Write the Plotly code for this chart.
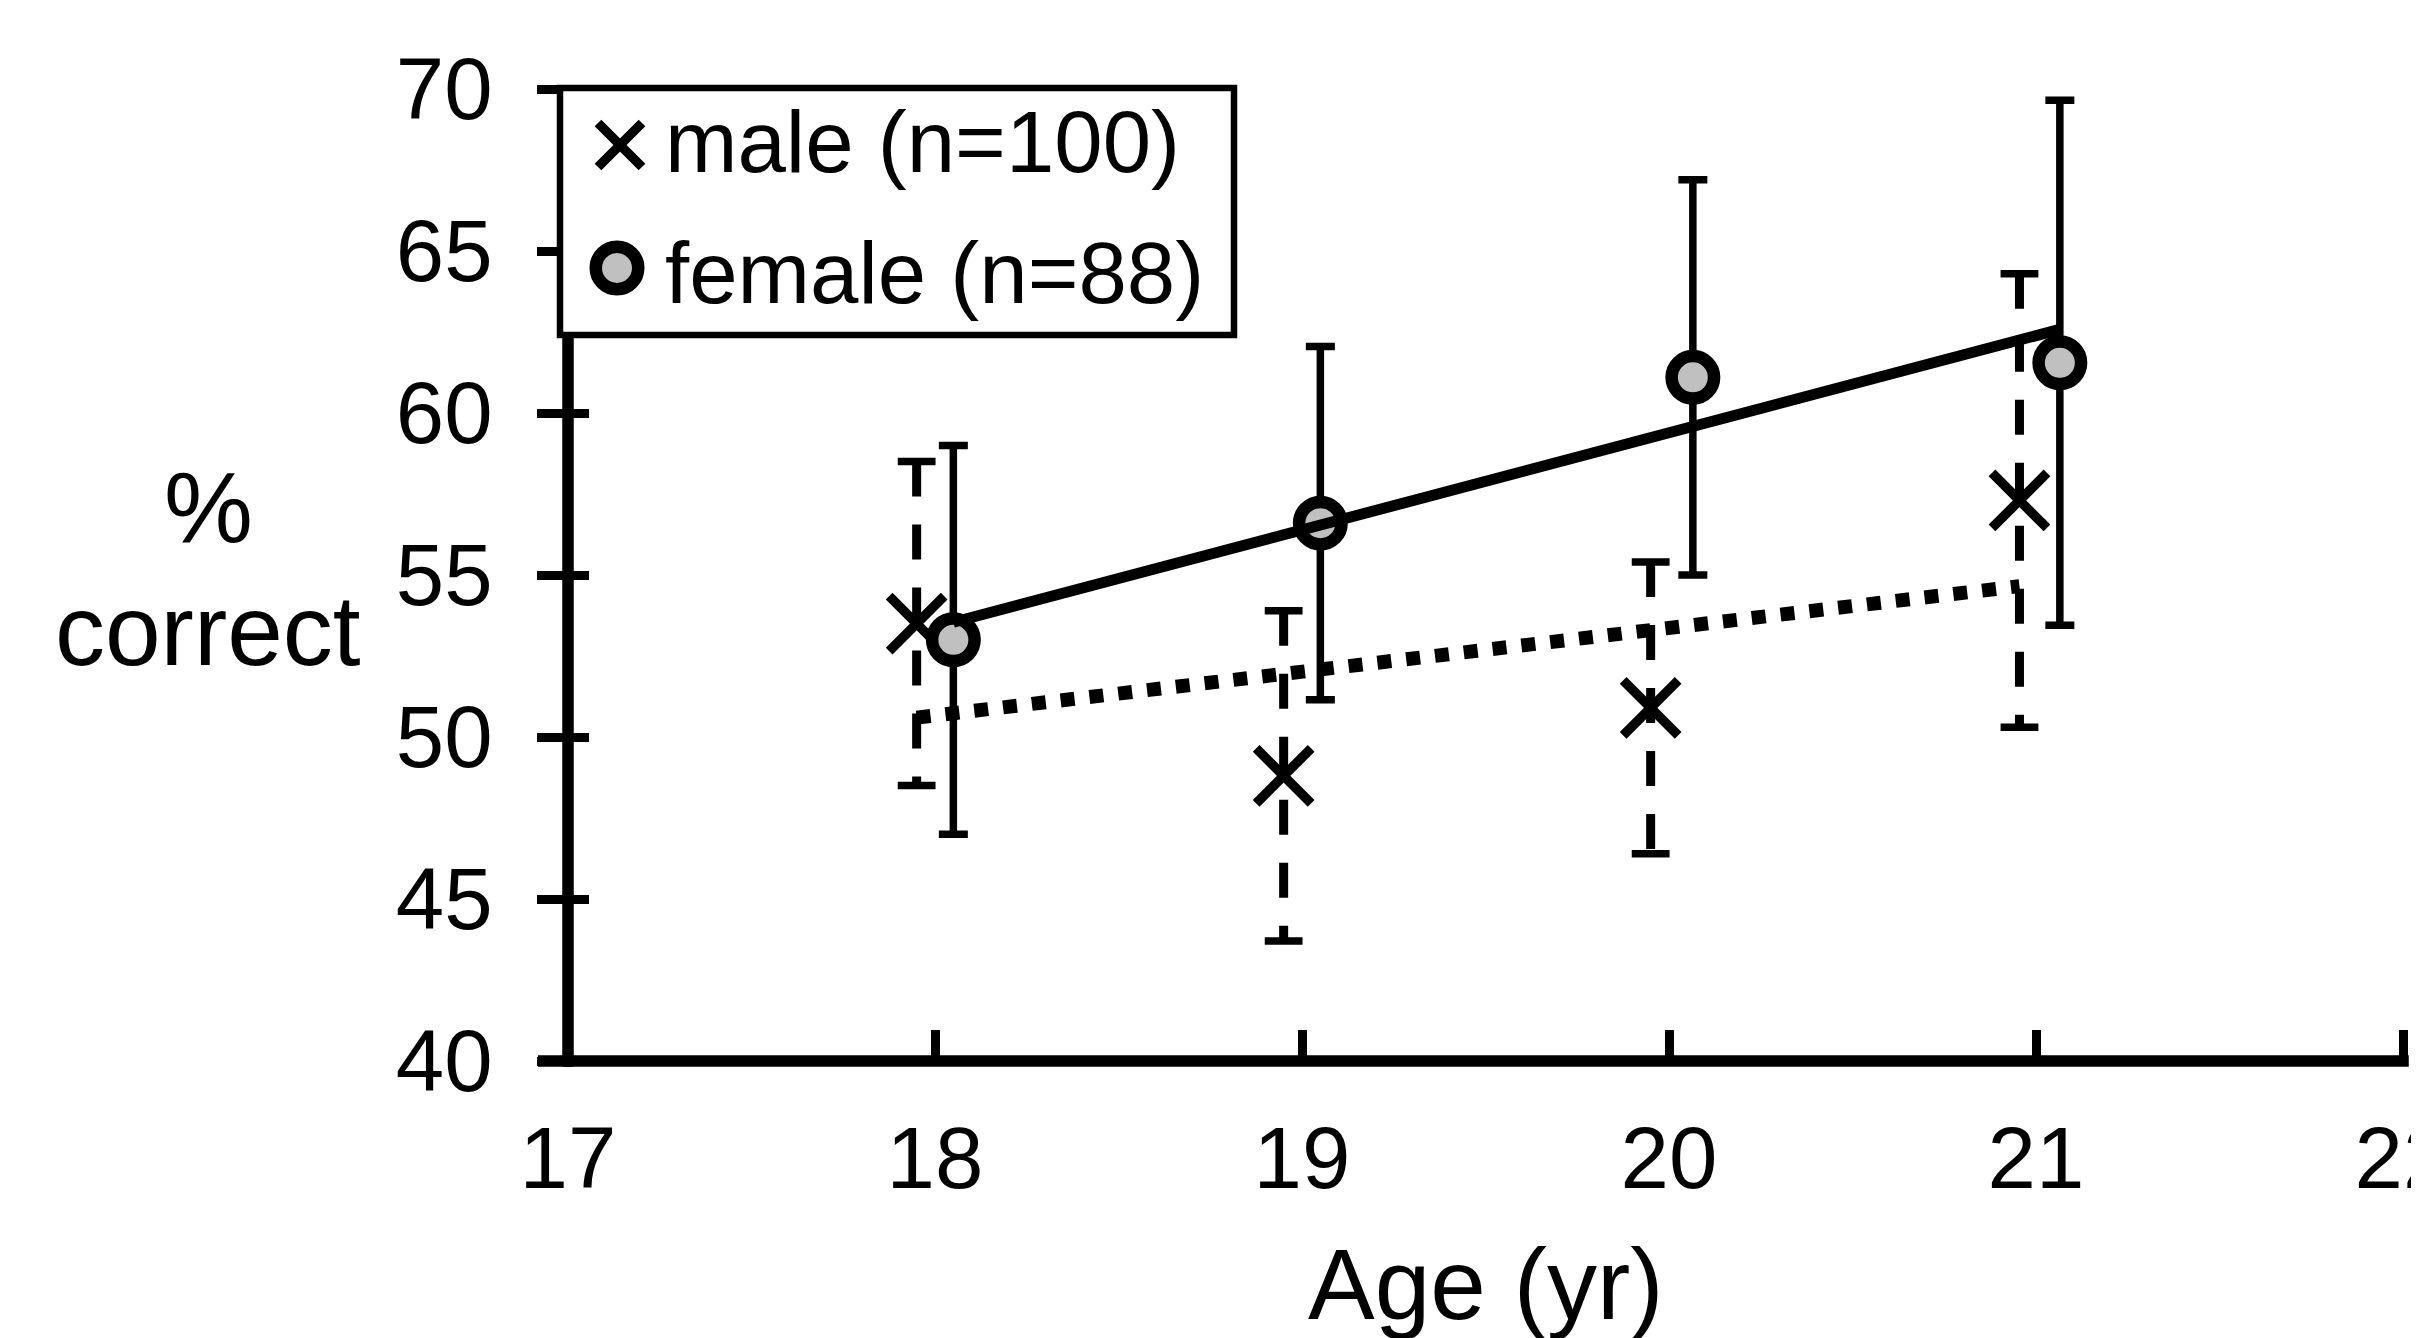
import numpy as np
import plotly.graph_objects as go

# ---------------- data ----------------
male_x = [17.95, 18.95, 19.95, 20.955]
male_pct = [53.5, 48.8, 50.9, 57.3]
male_err = [5.0, 5.1, 4.5, 7.0]

female_x = [18.05, 19.05, 20.065, 21.065]
female_pct = [53.0, 56.6, 61.1, 61.55]
female_err = [6.0, 5.45, 6.1, 8.1]

x_ticks = [17, 18, 19, 20, 21, 22]
y_ticks = [40, 45, 50, 55, 60, 65, 70]
male_label = "male (n=100)"
female_label = "female (n=88)"
x_title = "Age (yr)"
y_title_lines = ["%", "correct"]

# ---------------- layout constants ----------------
W, H = 2419, 1338
OFF = 8                      # page body margin of the written html
X0, X1, Y0, Y1 = 17, 22, 40, 70
SX0, SX1, SY1, SY0 = 568, 2403, 89, 1061   # screen pixels of axis ends
EXT = 2                      # small extension so end ticks are kept
xu = (SX1 - SX0) / (X1 - X0)
yu = (SY0 - SY1) / (Y1 - Y0)
SL, SR, ST, SB = SX0, SX1 + EXT, SY1 - EXT, SY0
x_range = [X0, X1 + EXT / xu]
y_range = [Y0, Y1 + EXT / yu]
ML, MT = SL - OFF, ST - OFF
MR, MB = W - (SR - OFF), H - (SB - OFF)
PW, PH = SR - SL, SB - ST
FONT = "Liberation Sans, Arial, sans-serif"
AXW = 11.5


def px_x(p):
    return (p - SL) / PW


def px_y(p):
    return (SB - p) / PH


fig = go.Figure()

# male dashed error bars (one segment per point)
ex, ey = [], []
for xi, yi, ei in zip(male_x, male_pct, male_err):
    ex += [xi, xi, None]
    ey += [yi + ei, yi - ei, None]
fig.add_trace(go.Scatter(x=ex, y=ey, mode="lines", showlegend=False, hoverinfo="skip",
                         line=dict(color="black", width=9, dash="35px,28px")))
# male error-bar caps
cx, cy = [], []
for xi, yi, ei in zip(male_x, male_pct, male_err):
    cx += [xi, xi]
    cy += [yi + ei, yi - ei]
fig.add_trace(go.Scatter(x=cx, y=cy, mode="markers", showlegend=False, hoverinfo="skip",
                         marker=dict(symbol="line-ew", size=27,
                                     line=dict(color="black", width=7.5))))
# male markers
fig.add_trace(go.Scatter(x=male_x, y=male_pct, mode="markers", name=male_label,
                         showlegend=False,
                         marker=dict(symbol="x-thin", size=55, color="black",
                                     line=dict(color="black", width=9.5))))
# female markers with error bars
fig.add_trace(go.Scatter(x=female_x, y=female_pct, mode="markers", name=female_label,
                         showlegend=False,
                         error_y=dict(type="data", array=female_err, visible=True,
                                      color="black", thickness=7.5, width=14.5),
                         marker=dict(symbol="circle", size=42.5, color="#c0c0c0",
                                     line=dict(color="black", width=12.5))))

# linear trend lines (least-squares fit of each series)
fm, fb = np.polyfit(female_x, female_pct, 1)
mm, mb = np.polyfit(male_x, male_pct, 1)
fx = [min(female_x), max(female_x)]
mxl = [min(male_x), max(male_x)]
fig.add_trace(go.Scatter(x=fx, y=[fm * v + fb for v in fx], mode="lines", yaxis="y2",
                         showlegend=False, hoverinfo="skip",
                         line=dict(color="black", width=11)))
fig.add_trace(go.Scatter(x=mxl, y=[mm * v + mb for v in mxl], mode="lines", yaxis="y2",
                         showlegend=False, hoverinfo="skip",
                         line=dict(color="black", width=14, dash="14px,15px")))

axis_common = dict(showgrid=False, zeroline=False, automargin=False, showline=False)
fig.update_layout(
    width=W, height=H,
    margin=dict(l=ML, r=MR, t=MT, b=MB, pad=0, autoexpand=False),
    paper_bgcolor="white", plot_bgcolor="white",
    font=dict(family=FONT, color="black", size=87),
    showlegend=False,
    xaxis=dict(range=x_range, tickvals=x_ticks, ticktext=[str(v) for v in x_ticks],
               ticks="inside", ticklen=31, tickwidth=9, tickcolor="black",
               ticklabelstandoff=39, ticklabeloverflow="allow",
               tickfont=dict(size=87), **axis_common),
    yaxis=dict(range=y_range, tickvals=y_ticks, ticktext=[str(v) for v in y_ticks],
               ticks="outside", ticklen=30, tickwidth=9, tickcolor="black",
               ticklabelstandoff=27, ticklabeloverflow="allow",
               tickfont=dict(size=87), **axis_common),
    yaxis2=dict(range=y_range, overlaying="y", side="left", tickvals=y_ticks,
                ticks="inside", ticklen=21, tickwidth=9, tickcolor="black",
                showticklabels=False, **axis_common),
)

# axis lines
fig.add_shape(type="line", xref="paper", yref="paper",
              x0=px_x(SX0 - 30), x1=px_x(SX1 + AXW / 2), y0=0, y1=0,
              line=dict(color="black", width=AXW), layer="below")
fig.add_shape(type="line", xref="paper", yref="paper",
              x0=0, x1=0, y0=px_y(SY0 + AXW / 2), y1=px_y(SY1 - 4),
              line=dict(color="black", width=AXW), layer="below")

# axis titles
fig.add_annotation(text=x_title, x=px_x((SX0 + SX1) / 2), y=px_y(1284),
                   xref="paper", yref="paper",
                   showarrow=False, xanchor="center", yanchor="middle",
                   font=dict(size=100, family=FONT))
for txt, py in zip(y_title_lines, [507, 630]):
    fig.add_annotation(text=txt, x=px_x(208), y=px_y(py), xref="paper", yref="paper",
                       showarrow=False, xanchor="center", yanchor="middle",
                       font=dict(size=100, family=FONT))

# manual legend (box, symbols, labels)
fig.add_shape(type="rect", xref="paper", yref="paper",
              x0=px_x(560), x1=px_x(1234), y0=px_y(335), y1=px_y(88),
              line=dict(color="black", width=6.5), fillcolor="white", layer="above")
lx, ly, hs = 620, 145, 22
fig.add_shape(type="path", xref="paper", yref="paper",
              path=(f"M {px_x(lx-hs)} {px_y(ly-hs)} L {px_x(lx+hs)} {px_y(ly+hs)} "
                    f"M {px_x(lx-hs)} {px_y(ly+hs)} L {px_x(lx+hs)} {px_y(ly-hs)}"),
              line=dict(color="black", width=9.5), layer="above")
ccx, ccy, r = 617, 268, 21.25
fig.add_shape(type="circle", xref="paper", yref="paper",
              x0=px_x(ccx - r), x1=px_x(ccx + r), y0=px_y(ccy + r), y1=px_y(ccy - r),
              line=dict(color="black", width=12.5), fillcolor="#c0c0c0", layer="above")
for txt, py in zip([male_label, female_label], [142, 272]):
    fig.add_annotation(text=txt, x=px_x(663), y=px_y(py), xref="paper", yref="paper",
                       showarrow=False, xanchor="left", yanchor="middle",
                       font=dict(size=87, family=FONT))

fig.write_html("out.html")
